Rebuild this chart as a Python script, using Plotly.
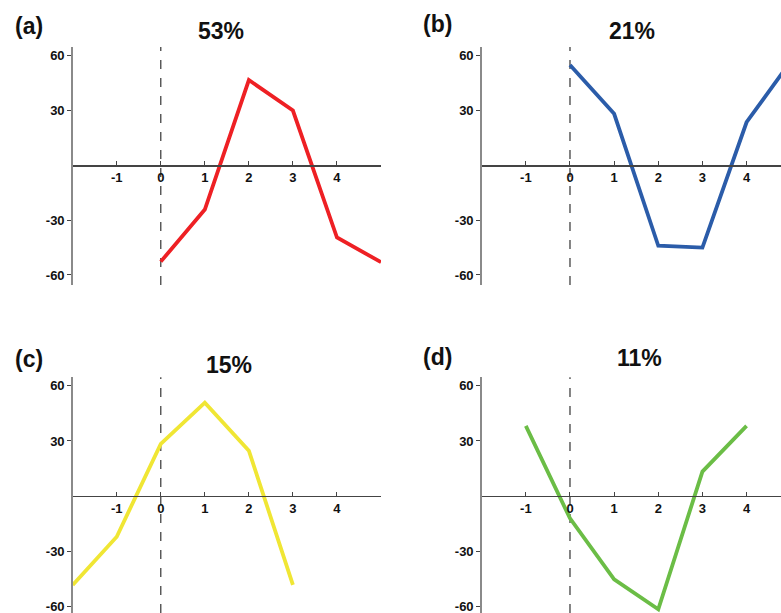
import plotly.graph_objects as go

W, H = 781, 613
OFF = 0  # body margin removed via post_script

# ---- data ----
panel_labels = ["(a)", "(b)", "(c)", "(d)"]
panel_titles = ["53%", "21%", "15%", "11%"]
x_a = [0, 1, 2, 3, 4, 5]
y_a = [-52.7, -24.2, 46.7, 30.0, -39.5, -53.0]
x_b = [0, 1, 2, 3, 4, 5]
y_b = [54.9, 28.2, -44.0, -45.0, 23.6, 57.0]
x_c = [-2, -1, 0, 1, 2, 3]
y_c = [-48.5, -22.2, 28.4, 50.9, 24.7, -48.5]
x_d = [-1, 0, 1, 2, 3, 4]
y_d = [38.2, -12.2, -45.5, -61.8, 13.3, 38.2]
x_ticks = [-1, 0, 1, 2, 3, 4]
x_ticktext = ["-1", "0", "1", "2", "3", "4"]
y_ticks = [-60, -30, 30, 60]
y_ticktext = ["-60", "-30", "30", "60"]
colors = ["#ee2024", "#2b5ca9", "#f0e634", "#6bbd46"]

series = [(x_a, y_a), (x_b, y_b), (x_c, y_c), (x_d, y_d)]

# ---- layout geometry (page pixels) ----
xpix = [(72.7, 381.0), (481.7, 781.0)]
xranges = [[-2, 5.0], [-2, 4.78]]
ypix = [(47.0, 285.0), (377.3, 613.0)]
yranges = [[-65.5, 64.8], [-63.8, 64.7]]
label_pos = [(29, 26), (437, 24), (29, 359), (437, 357)]
title_pos = [(221, 31), (632, 31), (229, 365), (639, 358)]


def fx(px):
    return (px - OFF) / W


def fy(py):
    return 1 - (py - OFF) / H


fig = go.Figure()
layout = dict(
    width=W, height=H,
    margin=dict(l=0, r=0, t=0, b=0, autoexpand=False),
    paper_bgcolor="white", plot_bgcolor="white",
    showlegend=False,
    font=dict(family="Liberation Sans, Arial, sans-serif", color="#111"),
)
annotations = []
shapes = []
for i in range(4):
    col = i % 2
    row = i // 2
    xs = "" if i == 0 else str(i + 1)
    xd = [fx(xpix[col][0]), min(1.0, fx(xpix[col][1]))]
    yd = [max(0.0, fy(ypix[row][1])), fy(ypix[row][0])]
    yr = yranges[row]
    zero_pos = yd[0] + (0 - yr[0]) / (yr[1] - yr[0]) * (yd[1] - yd[0])
    layout["xaxis" + xs] = dict(
        domain=xd, range=xranges[col], anchor="free", position=zero_pos,
        tickvals=x_ticks, ticktext=x_ticktext,
        ticks="inside", ticklen=4, tickcolor="#444",
        showline=True, linecolor="#444", linewidth=1.2,
        showgrid=False, zeroline=False, fixedrange=True, automargin=False,
        ticklabeloverflow="allow",
        tickfont=dict(size=13, weight="bold", color="#111"),
    )
    layout["yaxis" + xs] = dict(
        domain=yd, range=yr, anchor="x" + xs,
        tickvals=y_ticks, ticktext=y_ticktext,
        ticks="outside", ticklen=4, tickcolor="#444",
        showline=True, linecolor="#8a8a8a", linewidth=1.5,
        showgrid=False, zeroline=False, fixedrange=True, automargin=False,
        ticklabeloverflow="allow",
        tickfont=dict(size=13, weight="bold", color="#111"),
    )
    fig.add_trace(go.Scatter(
        x=series[i][0], y=series[i][1], mode="lines",
        line=dict(color=colors[i], width=3.8),
        xaxis="x" + xs, yaxis="y" + xs,
    ))
    shapes.append(dict(
        type="line", xref="x" + xs, yref="y" + xs + " domain",
        x0=0, x1=0, y0=0, y1=1,
        line=dict(color="#333", width=1.2, dash="dash"), layer="below",
    ))
    lx, ly = label_pos[i]
    annotations.append(dict(
        text=panel_labels[i], x=fx(lx), y=fy(ly), xref="paper", yref="paper",
        showarrow=False, xanchor="center", yanchor="middle",
        font=dict(size=23, weight="bold", color="#111"),
    ))
    tx, ty = title_pos[i]
    annotations.append(dict(
        text=panel_titles[i], x=fx(tx), y=fy(ty), xref="paper", yref="paper",
        showarrow=False, xanchor="center", yanchor="middle",
        font=dict(size=23, weight="bold", color="#111"),
    ))

layout["annotations"] = annotations
layout["shapes"] = shapes
fig.update_layout(**layout)
fig.write_html(
    "out.html",
    config={"displayModeBar": False, "staticPlot": True},
    post_script="document.body.style.margin='0';document.body.style.overflow='hidden';",
)
